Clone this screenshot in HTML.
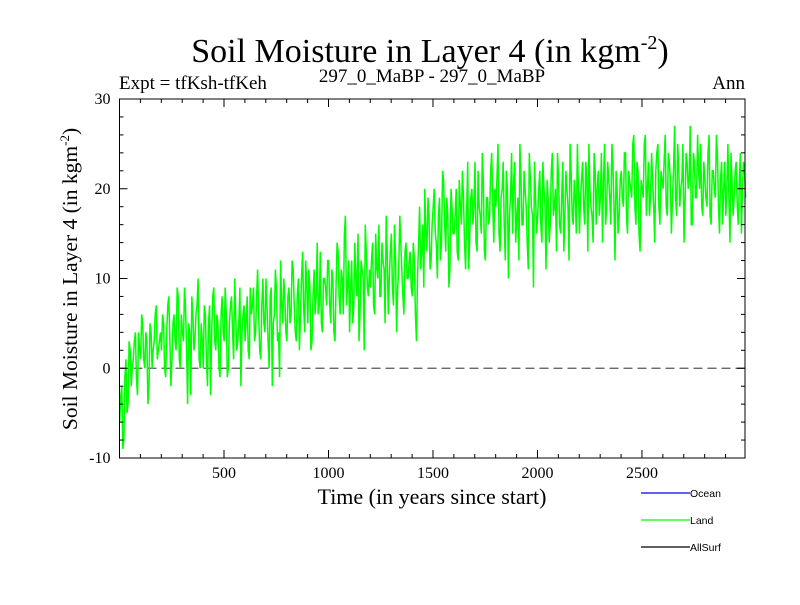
<!DOCTYPE html>
<html><head><meta charset="utf-8"><style>
body{margin:0;background:#fff;}
.serif{font-family:"Liberation Serif",serif;}
.sans{font-family:"Liberation Sans",sans-serif;}
</style></head><body>
<svg id="chart" width="800" height="600" viewBox="0 0 800 600" xmlns="http://www.w3.org/2000/svg">
<text class="serif" x="430" y="62" font-size="34" text-anchor="middle">Soil Moisture in Layer 4 (in kgm<tspan dy="-13" font-size="20">-2</tspan><tspan dy="13">)</tspan></text>
<text class="serif" x="119" y="89" font-size="19">Expt = tfKsh-tfKeh</text>
<text class="serif" x="432" y="82" font-size="19" text-anchor="middle">297_0_MaBP - 297_0_MaBP</text>
<text class="serif" x="745" y="89" font-size="19" text-anchor="end">Ann</text>
<text class="serif" x="432" y="504" font-size="22" text-anchor="middle">Time (in years since start)</text>
<text class="serif" transform="translate(77,279) rotate(-90)" font-size="21.5" text-anchor="middle">Soil Moisture in Layer 4 (in kgm<tspan dy="-8" font-size="13">-2</tspan><tspan dy="8">)</tspan></text>
<g id="plot"></g>
<g>
<line x1="641" y1="493" x2="690" y2="493" stroke="#0000ff" stroke-width="1.3"/>
<text class="sans" x="690" y="497" font-size="10.5">Ocean</text>
<line x1="641" y1="520" x2="690" y2="520" stroke="#00ff00" stroke-width="1.3"/>
<text class="sans" x="690" y="524" font-size="10.5">Land</text>
<line x1="641" y1="547" x2="690" y2="547" stroke="#000" stroke-width="1.3"/>
<text class="sans" x="690" y="551" font-size="10.5">AllSurf</text>
</g>
</svg>
<script>
const yearStep = 10;
const landValues = [
-6,-2,-8,1,-4,2,0,3,-1,4,1,5,0,3,-2,4,2,6,1,3,
2,5,-1,7,3,1,6,2,8,0,4,9,2,5,-3,6,3,7,1,5,
0,6,-2,7,4,9,2,5,-1,8,3,6,0,7,4,10,2,5,-2,6,
3,8,1,6,9,4,11,2,7,5,10,3,8,-2,6,9,4,12,5,8,
3,9,6,11,4,8,2,10,7,12,5,9,3,11,8,6,13,4,10,7,
12,5,10,3,14,8,11,6,17,9,4,12,7,10,15,6,11,2,13,8,
9,14,6,11,16,8,12,5,13,10,15,7,12,9,17,11,6,14,10,13,
8,12,3,14,11,16,20,13,17,12,18,15,10,19,14,21,13,17,11,18,
15,20,12,18,22,14,17,11,19,16,23,13,18,15,21,12,19,17,24,14,
18,25,13,20,16,22,10,19,15,23,17,12,21,16,20,14,24,18,9,19,
17,22,14,20,11,19,16,24,18,13,21,15,23,17,20,12,22,16,19,25,
15,21,18,23,13,20,17,24,16,22,19,14,25,18,21,16,23,12,20,17,
22,18,24,15,21,19,26,16,22,13,20,25,17,23,19,21,14,24,18,22,
20,26,17,23,15,22,19,25,18,21,14,24,20,27,16,23,19,22,25,17,
21,18,26,16,22,19,24,15,23,20,17,25,14,21,19,23,16,24,20,22
];
const landValuesMid = [
-3,-9,-1,-5,3,-2,1,4,-3,2,6,1,4,-4,5,0,3,7,2,4,
6,0,4,8,-2,5,3,9,1,6,3,7,-4,4,8,2,6,10,0,3,
7,1,5,-3,8,3,6,0,6,4,9,-1,5,8,1,6,3,9,4,7,
5,2,9,7,3,8,6,1,10,4,7,0,9,5,11,3,-1,7,10,4,
8,5,12,7,3,10,6,13,4,9,11,2,8,6,14,7,5,10,9,12,
7,11,4,9,13,6,10,15,7,12,9,5,14,8,3,12,10,16,9,11,
12,7,15,10,8,14,11,17,6,13,9,16,4,11,14,8,13,10,12,9,
14,6,10,18,13,9,15,19,11,16,20,14,17,12,22,16,19,9,20,15,
17,13,21,16,19,11,23,15,20,18,14,22,17,24,13,19,16,22,18,20,
21,15,19,23,12,20,17,24,21,14,19,25,16,22,18,11,21,17,23,15,
20,16,23,18,21,14,22,17,20,24,16,19,13,22,18,25,17,21,15,20,
19,23,16,21,25,18,14,22,20,17,24,21,16,23,19,25,18,22,15,21,
19,24,17,22,20,25,18,23,15,21,19,26,20,17,24,18,22,25,16,21,
23,18,24,21,19,27,17,22,20,25,18,23,21,16,24,19,26,20,18,23,
19,24,17,22,20,26,18,21,16,23,20,19,24,17,22,18,21,15,23,19
];
const xTickLabels = [500,1000,1500,2000,2500];
const yTickLabels = [-10,0,10,20,30];

const L=119.5,R=745,T=99,B=458;
const X0=0,X1=2993,Y0=-10,Y1=30;
const sx=v=>L+(v-X0)/(X1-X0)*(R-L);
const sy=v=>B-(v-Y0)/(Y1-Y0)*(B-T);
const NS="http://www.w3.org/2000/svg";
const g=document.getElementById('plot');
function mk(tag,attrs){const e=document.createElementNS(NS,tag);for(const k in attrs)e.setAttribute(k,attrs[k]);g.appendChild(e);return e;}

const z=mk('line',{x1:L,x2:R,y1:sy(0),y2:sy(0),stroke:'#555','stroke-dasharray':'9,5','stroke-width':1.2});



let pts=[];
landValues.forEach((v,i)=>{
  pts.push([i*yearStep+1,v]);
  if(i<landValuesMid.length) pts.push([i*yearStep+6,landValuesMid[i]]);
});
let d='';
pts.forEach((q,i)=>{d+=(i?'L':'M')+sx(q[0]).toFixed(1)+','+sy(q[1]).toFixed(1);});
const p=mk('path',{d:d,fill:'none',stroke:'#00ff00','stroke-width':1.5,'stroke-linejoin':'miter'});



const f=mk('rect',{x:L,y:T,width:R-L,height:B-T,fill:'none',stroke:'#000','stroke-width':1});



for(let v=100;v<X1;v+=100){
  const maj=v%500===0, len=maj?8:4;
  const t1=mk('line',{x1:sx(v),x2:sx(v),y1:B,y2:B-len,stroke:'#000'});
  
  
  const t2=mk('line',{x1:sx(v),x2:sx(v),y1:T,y2:T+len,stroke:'#000'});
  
  
}
xTickLabels.forEach(v=>{
  const t=mk('text',{x:sx(v),y:B+20,'font-size':16,'text-anchor':'middle','class':'serif'});
  t.textContent=v;
  
  
});
for(let v=Y0+2;v<Y1;v+=2){
  const maj=v%10===0, len=maj?8:4;
  const t1=mk('line',{x1:L,x2:L+len,y1:sy(v),y2:sy(v),stroke:'#000'});
  
  
  const t2=mk('line',{x1:R,x2:R-len,y1:sy(v),y2:sy(v),stroke:'#000'});
  
  
}
yTickLabels.forEach(v=>{
  const t=mk('text',{x:L-9,y:sy(v)+5,'font-size':16,'text-anchor':'end','class':'serif'});
  t.textContent=v;
  
  
});
</script>
</body></html>
